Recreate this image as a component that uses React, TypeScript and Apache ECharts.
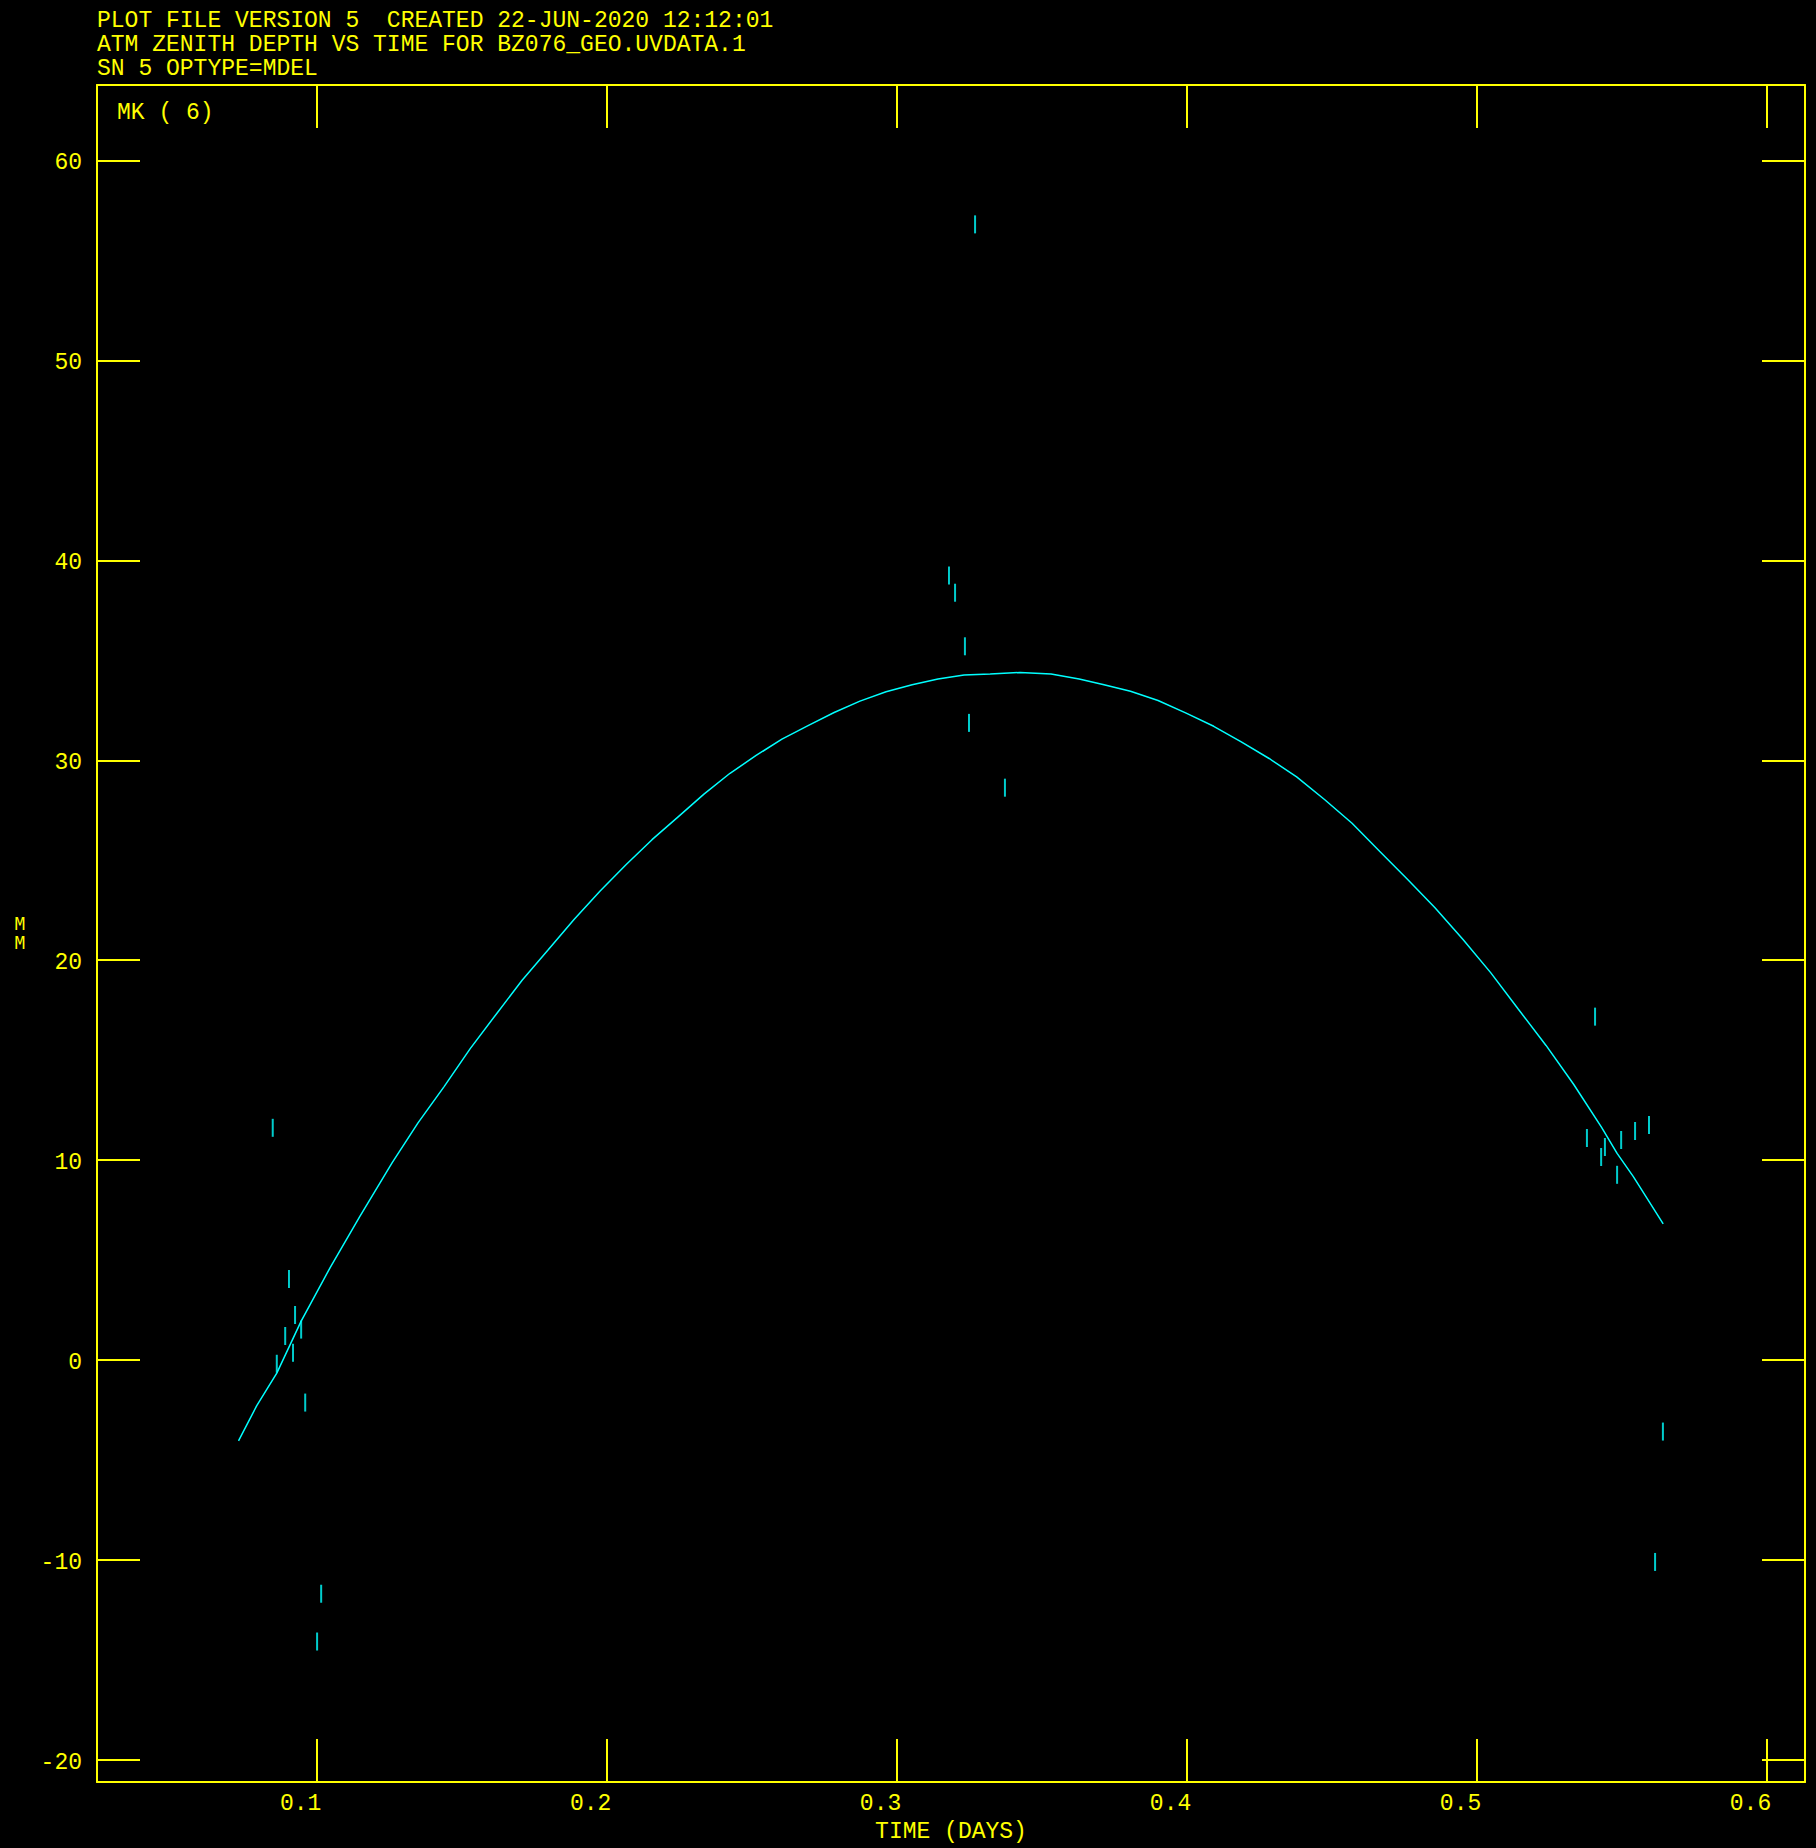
import { useEffect, useRef } from 'react';
import * as echarts from 'echarts';

const titleLines = [
  'PLOT FILE VERSION 5  CREATED 22-JUN-2020 12:12:01',
  'ATM ZENITH DEPTH VS TIME FOR BZ076_GEO.UVDATA.1',
  'SN 5 OPTYPE=MDEL',
];
const panelLabel = 'MK ( 6)';
const xAxisTitle = 'TIME (DAYS)';
const yAxisTitle = 'M\nM';

const xTicks = [0.1, 0.2, 0.3, 0.4, 0.5, 0.6];
const yTicks = [-20, -10, 0, 10, 20, 30, 40, 50, 60];
const xRange = [0.0241, 0.6131];
const yRange = [-21.1, 63.77];

// fitted model curve (cyan line)
const curveX = [
  0.0729, 0.0792, 0.0861, 0.0945, 0.1045, 0.1148, 0.1259, 0.1348, 0.1438, 0.1528,
  0.1617, 0.1707, 0.1797, 0.1886, 0.1976, 0.2066, 0.2155, 0.2245, 0.2334, 0.2424,
  0.2514, 0.2603, 0.2693, 0.2783, 0.2872, 0.2962, 0.3052, 0.3141, 0.3231, 0.3321,
  0.3424, 0.3531, 0.3628, 0.371, 0.3805, 0.39, 0.3997, 0.4092, 0.4187, 0.4283,
  0.4378, 0.4474, 0.4569, 0.4664, 0.476, 0.4855, 0.4951, 0.5047, 0.5142, 0.5238,
  0.5333, 0.5429, 0.5483, 0.5539, 0.5642,
];
const curveY = [
  -4.04, -2.27, -0.65, 1.95, 4.63, 7.2, 9.88, 11.87, 13.68, 15.58,
  17.29, 19.0, 20.52, 22.04, 23.46, 24.79, 26.03, 27.17, 28.31, 29.35,
  30.24, 31.06, 31.73, 32.39, 32.96, 33.43, 33.78, 34.06, 34.27, 34.31,
  34.39, 34.32, 34.07, 33.79, 33.45, 32.99, 32.36, 31.7, 30.92, 30.09,
  29.17, 28.04, 26.85, 25.45, 24.05, 22.62, 21.05, 19.38, 17.56, 15.74,
  13.8, 11.65, 10.34, 9.18, 6.82,
];

// measured points (cyan vertical dashes)
const pointX = [
  0.0847, 0.0903, 0.0924, 0.089, 0.0945, 0.0861, 0.0917, 0.0959, 0.1014, 0.1,
  0.3269, 0.3179, 0.32, 0.3234, 0.3248, 0.3372,
  0.5407, 0.5379, 0.5428, 0.5441, 0.5497, 0.5483, 0.5545, 0.5593, 0.5641, 0.5614,
];
const pointY = [
  11.62, 4.06, 2.26, 1.21, 1.53, -0.18, 0.37, -2.12, -11.68, -14.07,
  56.8, 39.24, 38.38, 35.7, 31.87, 28.63,
  17.18, 11.11, 10.16, 10.66, 11.01, 9.27, 11.46, 11.76, -3.57, -10.09,
];

const YELLOW = '#ffff00';
const CYAN = '#00ffff';
const FONT = 'Liberation Mono';
const FS = 23;

export default function App() {
  const ref = useRef<HTMLDivElement>(null);

  useEffect(() => {
    if (!ref.current) return;
    const chart = echarts.init(ref.current, undefined, { renderer: 'svg' });

    const tickStyle = { show: true, inside: true, length: 43, lineStyle: { color: YELLOW, width: 2 } };
    const lineStyle = { show: true, onZero: false, lineStyle: { color: YELLOW, width: 2 } };

    chart.setOption({
      animation: false,
      backgroundColor: '#000000',
      title: [
        {
          text: titleLines.join('\n'),
          left: 97,
          top: 8.5,
          padding: 0,
          textStyle: { color: YELLOW, fontFamily: FONT, fontSize: FS, fontWeight: 'normal', lineHeight: 24 },
        },
        {
          text: panelLabel,
          left: 117,
          top: 100.5,
          padding: 0,
          textStyle: { color: YELLOW, fontFamily: FONT, fontSize: FS, fontWeight: 'normal', lineHeight: 24 },
        },
      ],
      grid: { left: 97, top: 85, width: 1708, height: 1705, containLabel: false },
      xAxis: [
        {
          type: 'value',
          position: 'bottom',
          min: xRange[0],
          max: xRange[1],
          axisLine: lineStyle,
          axisTick: { ...tickStyle, customValues: xTicks },
          splitLine: { show: false },
          axisLabel: {
            show: true,
            customValues: xTicks,
            margin: 10,
            formatter: (v: number) => `{a|${v.toFixed(1)}}`,
            rich: {
              a: { color: YELLOW, fontFamily: FONT, fontSize: FS, padding: [0, 33, 0, 0] },
            },
          },
          name: xAxisTitle,
          nameLocation: 'middle',
          nameGap: 34,
          nameTextStyle: { color: YELLOW, fontFamily: FONT, fontSize: FS },
        },
        {
          type: 'value',
          position: 'top',
          min: xRange[0],
          max: xRange[1],
          axisLine: lineStyle,
          axisTick: { ...tickStyle, customValues: xTicks },
          splitLine: { show: false },
          axisLabel: { show: false },
        },
      ],
      yAxis: [
        {
          type: 'value',
          position: 'left',
          min: yRange[0],
          max: yRange[1],
          axisLine: lineStyle,
          axisTick: { ...tickStyle, customValues: yTicks },
          splitLine: { show: false },
          axisLabel: {
            show: true,
            customValues: yTicks,
            margin: 15,
            formatter: (v: number) => `{a|${v}}`,
            rich: {
              a: { color: YELLOW, fontFamily: FONT, fontSize: FS, padding: [5, 0, 0, 0] },
            },
          },
          name: yAxisTitle,
          nameLocation: 'middle',
          nameRotate: 0,
          nameGap: 72,
          nameTextStyle: { color: YELLOW, fontFamily: 'DejaVu Sans Mono', fontSize: 17, lineHeight: 19 },
        },
        {
          type: 'value',
          position: 'right',
          min: yRange[0],
          max: yRange[1],
          axisLine: lineStyle,
          axisTick: { ...tickStyle, customValues: yTicks },
          splitLine: { show: false },
          axisLabel: { show: false },
        },
      ],
      series: [
        {
          type: 'line',
          xAxisIndex: 0,
          yAxisIndex: 0,
          data: curveX.map((x, i) => [x, curveY[i]]),
          showSymbol: false,
          symbol: 'none',
          lineStyle: { color: CYAN, width: 1.5 },
          silent: true,
        },
        {
          type: 'scatter',
          xAxisIndex: 0,
          yAxisIndex: 0,
          data: pointX.map((x, i) => [x, pointY[i]]),
          symbol: 'rect',
          symbolSize: [2, 18],
          itemStyle: { color: CYAN },
          silent: true,
        },
      ],
    });

    return () => chart.dispose();
  }, []);

  return (
    <div
      ref={ref}
      style={{ position: 'fixed', left: 0, top: 0, width: 1816, height: 1848, background: '#000' }}
    />
  );
}
